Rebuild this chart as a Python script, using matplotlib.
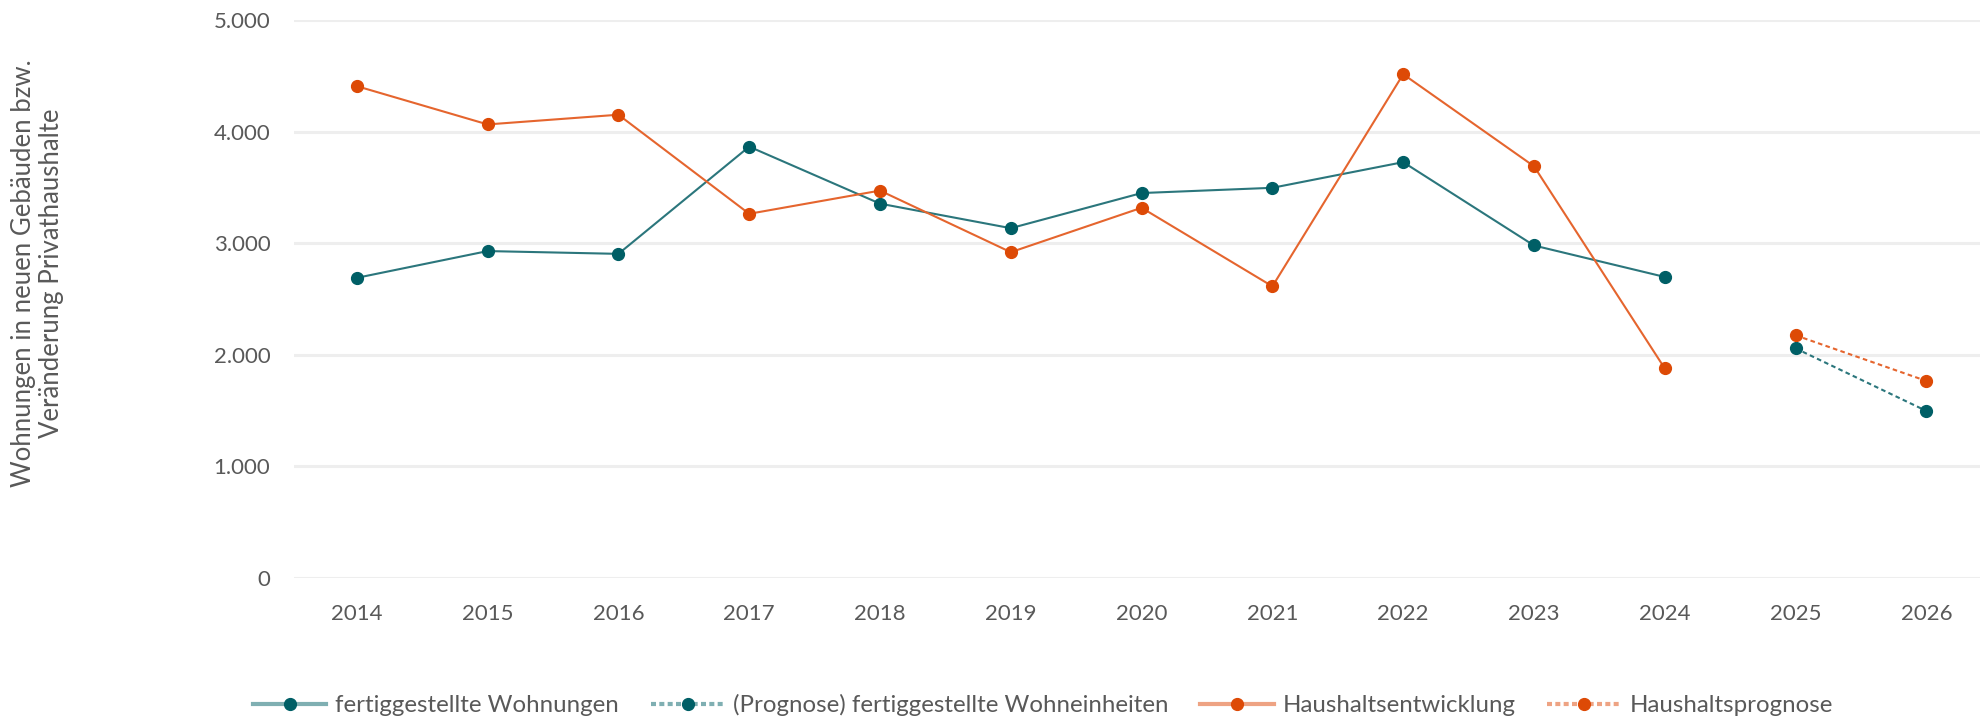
import matplotlib
matplotlib.use('Agg')
import matplotlib.pyplot as plt
from matplotlib.lines import Line2D
from matplotlib.ticker import FuncFormatter

years = ['2014', '2015', '2016', '2017', '2018', '2019', '2020',
         '2021', '2022', '2023', '2024', '2025', '2026']

wohnungen = [2690, 2930, 2905, 3866, 3355, 3135, 3450, 3497, 3727, 2980, 2698]
wohnungen_prognose = [2058, 1497]
haushalte = [4408, 4065, 4152, 3264, 3472, 2920, 3318, 2614, 4515, 3690, 1878]
haushalte_prognose = [2175, 1766]

labels = ['fertiggestellte Wohnungen', '(Prognose) fertiggestellte Wohneinheiten',
          'Haushaltsentwicklung', 'Haushaltsprognose']
ylabel = 'Wohnungen in neuen Gebäuden bzw.\nVeränderung Privathaushalte'

teal = '#005F66'
teal_line = '#2B767C'
teal_light = '#7FAFB2'
orange = '#DD4A06'
orange_line = '#E5652E'
orange_light = '#EEA383'
grey = '#595959'

plt.rcParams['font.family'] = ['Lato', 'DejaVu Sans']

fig = plt.figure(figsize=(19.8, 7.18), dpi=100)
ax = fig.add_axes([0.1485, 0.195, 0.8515, 0.777])

x_hist = list(range(len(wohnungen)))
x_prog = list(range(len(wohnungen), len(wohnungen) + len(wohnungen_prognose)))
dash = (0, (2.2, 1.6))

ax.plot(x_hist, wohnungen, color=teal_line, lw=1.5, marker='o', ms=8.5,
        mfc=teal, mec=teal, zorder=3)
ax.plot(x_prog, wohnungen_prognose, color=teal_line, lw=1.5, ls=dash, marker='o', ms=8.5,
        mfc=teal, mec=teal, zorder=3)
ax.plot(x_hist, haushalte, color=orange_line, lw=1.5, marker='o', ms=8.5,
        mfc=orange, mec=orange, zorder=4)
ax.plot(x_prog, haushalte_prognose, color=orange_line, lw=1.5, ls=dash, marker='o', ms=8.5,
        mfc=orange, mec=orange, zorder=4)

ax.set_xlim(-0.48, 12.41)
ax.set_ylim(0, 5000)
ax.set_yticks(range(0, 5001, 1000))
ax.yaxis.set_major_formatter(FuncFormatter(lambda v, p: f'{int(v):,}'.replace(',', '.')))
ax.set_xticks(range(len(years)))
ax.set_xticklabels(years)
ax.grid(axis='y', color='#EEEEEE', lw=2.2, zorder=0)
ax.set_axisbelow(True)
for s in ax.spines.values():
    s.set_visible(False)
ax.tick_params(length=0, labelsize=16, colors=grey)
ax.tick_params(axis='y', pad=17)
ax.tick_params(axis='x', pad=19)

fig.text(0.019, 0.62, ylabel, rotation=90, ha='center', va='center',
         fontsize=18.5, color=grey, linespacing=1.15, multialignment='center')

handles = [
    Line2D([], [], color=teal_light, lw=3, marker='o', ms=8.5, mfc=teal, mec=teal),
    Line2D([], [], color=teal_light, lw=3, ls=(0, (1.2, 0.8)), marker='o', ms=8.5, mfc=teal, mec=teal),
    Line2D([], [], color=orange_light, lw=3, marker='o', ms=8.5, mfc=orange, mec=orange),
    Line2D([], [], color=orange_light, lw=3, ls=(0, (1.2, 0.8)), marker='o', ms=8.5, mfc=orange, mec=orange),
]
leg = fig.legend(handles, labels, loc='center left', bbox_to_anchor=(0.128, 0.018),
                 ncol=4, frameon=False, fontsize=17.3, handlelength=3.04,
                 columnspacing=1.33, handletextpad=0.37, borderpad=0, borderaxespad=0)
for t in leg.get_texts():
    t.set_color(grey)

fig.savefig('out.png', dpi=100)
